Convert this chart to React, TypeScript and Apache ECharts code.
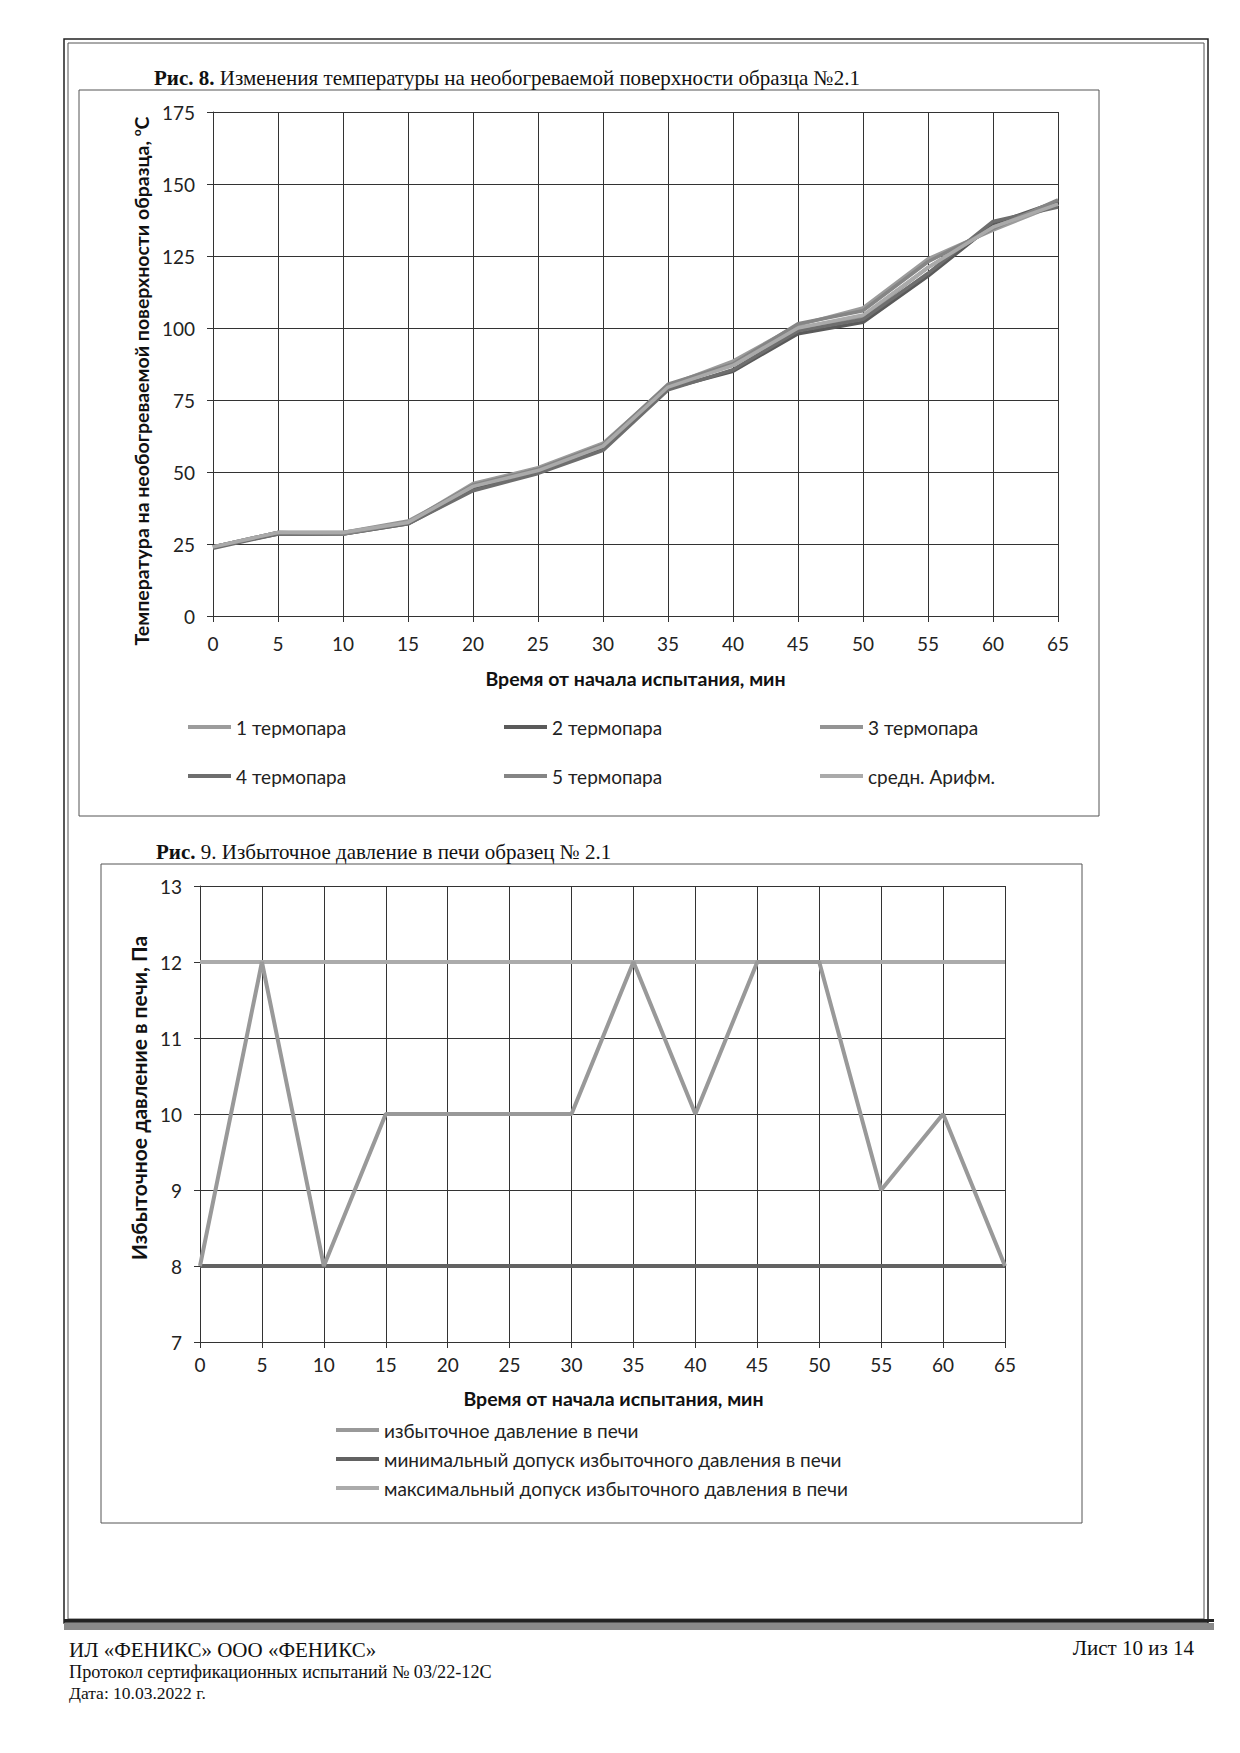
import React, { useEffect, useRef } from "react";
import * as echarts from "echarts";

// ---------- DATA ----------
const minutes = [0, 5, 10, 15, 20, 25, 30, 35, 40, 45, 50, 55, 60, 65];

const tempNames = ["1 термопара", "2 термопара", "3 термопара", "4 термопара", "5 термопара", "средн. Арифм."];
const tc1 = [24, 29, 29, 32.5, 46, 51.5, 60, 80, 88.5, 101, 107, 124, 134, 143];
const tc2 = [24, 28.5, 28.5, 32, 44, 50, 58, 79, 85, 98, 102, 118, 136, 144];
const tc3 = [24, 29, 29, 33, 45, 51, 59, 80, 87, 100, 104, 121, 135, 143];
const tc4 = [23.5, 28.5, 28.5, 32, 43.5, 49.5, 57.5, 78.5, 85.5, 99, 103, 119, 137, 142];
const tc5 = [24, 29, 28.5, 32.5, 45.5, 51, 59.5, 80.5, 87.5, 101.5, 106, 123, 134.5, 144.5];
const tcAvg = [24, 29, 29, 32.5, 45, 50.5, 59, 79.5, 87, 100, 104.5, 121, 135, 143];
const tempSeries = [tc1, tc2, tc3, tc4, tc5, tcAvg];
const tempColors = ["#9c9c9c", "#5a5a5a", "#949494", "#6e6e6e", "#858585", "#aaaaaa"];

const pressNames = [
  "избыточное давление в печи",
  "минимальный допуск избыточного давления в печи",
  "максимальный допуск избыточного давления в печи",
];
const pressure = [8, 12, 8, 10, 10, 10, 10, 12, 10, 12, 12, 9, 10, 8];
const pressureMin = [8, 8, 8, 8, 8, 8, 8, 8, 8, 8, 8, 8, 8, 8];
const pressureMax = [12, 12, 12, 12, 12, 12, 12, 12, 12, 12, 12, 12, 12, 12];
const pressColors = ["#999999", "#626262", "#ababab"];

const title1Bold = "Рис. 8.";
const title1Text = " Изменения температуры на необогреваемой поверхности образца №2.1";
const title2Bold = "Рис.";
const title2Text = " 9. Избыточное давление в печи образец № 2.1";
const xName = "Время от начала испытания, мин";
const y1Name = "Температура на необогреваемой поверхности образца, {sup|o}С";
const y2Name = "Избыточное давление в печи, Па";
const footer1 = "ИЛ «ФЕНИКС» ООО «ФЕНИКС»";
const footer2 = "Протокол сертификационных испытаний № 03/22-12С";
const footer3 = "Дата: 10.03.2022 г.";
const footerPage = "Лист 10 из 14";

const SANS = "Lato";
const SERIF = "Liberation Serif";

export default function App() {
  const ref = useRef<HTMLDivElement>(null);

  useEffect(() => {
    if (!ref.current) return;
    const chart = echarts.init(ref.current, undefined, { renderer: "svg" });

    const gridLine = { show: true, lineStyle: { color: "#333333", width: 1 } };
    const axisLine = { show: true, lineStyle: { color: "#333333", width: 1 } };
    const axisTick = { show: true, length: 6, lineStyle: { color: "#333333", width: 1 } };
    const labelStyle = { fontFamily: SANS, fontSize: 19, color: "#222" };
    const nameStyle = { fontFamily: SANS, fontSize: 19.5, fontWeight: "bold", color: "#111" };

    const series: any[] = [];
    tempSeries.forEach((arr, i) => {
      series.push({
        type: "line",
        name: tempNames[i],
        xAxisIndex: 0,
        yAxisIndex: 0,
        data: minutes.map((m, j) => [m, arr[j]]),
        showSymbol: false,
        symbol: "none",
        lineStyle: { color: tempColors[i], width: 3.5 },
        itemStyle: { color: tempColors[i] },
        z: 2 + i,
      });
    });
    [pressure, pressureMin, pressureMax].forEach((arr, i) => {
      series.push({
        type: "line",
        name: pressNames[i],
        xAxisIndex: 1,
        yAxisIndex: 1,
        data: minutes.map((m, j) => [m, arr[j]]),
        showSymbol: false,
        symbol: "none",
        lineStyle: { color: pressColors[i], width: 4 },
        itemStyle: { color: pressColors[i] },
        z: i === 0 ? 5 : 3,
      });
    });

    const legendCommon = {
      orient: "vertical",
      icon: "rect",
      itemWidth: 43,
      itemHeight: 4,
      selectedMode: false,
      textStyle: { fontFamily: SANS, fontSize: 19, color: "#222", lineHeight: 20 },
    };

    const option: any = {
      animation: false,
      backgroundColor: "#ffffff",
      grid: [
        { left: 213, top: 112, width: 845, height: 504 },
        { left: 200, top: 886, width: 805, height: 456 },
      ],
      xAxis: [
        {
          gridIndex: 0,
          type: "value",
          min: 0,
          max: 65,
          interval: 5,
          axisLine,
          axisTick,
          splitLine: gridLine,
          axisLabel: { ...labelStyle, margin: 18 },
          name: xName,
          nameLocation: "middle",
          nameGap: 52,
          nameTextStyle: nameStyle,
        },
        {
          gridIndex: 1,
          type: "value",
          min: 0,
          max: 65,
          interval: 5,
          axisLine,
          axisTick,
          splitLine: gridLine,
          axisLabel: { ...labelStyle, margin: 13 },
          name: xName,
          nameLocation: "middle",
          nameGap: 46,
          nameTextStyle: { ...nameStyle, padding: [0, 0, 0, 22] },
        },
      ],
      yAxis: [
        {
          gridIndex: 0,
          type: "value",
          min: 0,
          max: 175,
          interval: 25,
          axisLine,
          axisTick,
          splitLine: gridLine,
          axisLabel: { ...labelStyle, margin: 18 },
          name: y1Name,
          nameLocation: "middle",
          nameGap: 58,
          nameTextStyle: {
            ...nameStyle,
            padding: [0, 34, 0, 0],
            rich: {
              sup: { fontFamily: SANS, fontSize: 12, fontWeight: "bold", color: "#111", verticalAlign: "top", padding: [0, 0, 10, 0] },
            },
          },
        },
        {
          gridIndex: 1,
          type: "value",
          min: 7,
          max: 13,
          interval: 1,
          axisLine,
          axisTick,
          splitLine: gridLine,
          axisLabel: { ...labelStyle, margin: 18 },
          name: y2Name,
          nameLocation: "middle",
          nameGap: 47,
          nameTextStyle: { ...nameStyle, fontSize: 21, padding: [0, 0, 0, 32] },
        },
      ],
      legend: [
        { ...legendCommon, data: [tempNames[0], tempNames[3]], left: 183, top: 712, itemGap: 29 },
        { ...legendCommon, data: [tempNames[1], tempNames[4]], left: 499, top: 712, itemGap: 29 },
        { ...legendCommon, data: [tempNames[2], tempNames[5]], left: 815, top: 712, itemGap: 29 },
        { ...legendCommon, data: pressNames, left: 331, top: 1415, itemGap: 9 },
      ],
      series,
      graphic: [
        // page border (double)
        { type: "rect", shape: { x: 64, y: 39, width: 1144, height: 1584 }, style: { fill: "none", stroke: "#222", lineWidth: 1.5 }, silent: true },
        { type: "rect", shape: { x: 68, y: 43, width: 1136, height: 1576 }, style: { fill: "none", stroke: "#555", lineWidth: 1 }, silent: true },
        // footer band
        { type: "rect", shape: { x: 64, y: 1619, width: 1150, height: 3 }, style: { fill: "#222" }, silent: true },
        { type: "rect", shape: { x: 64, y: 1623, width: 1150, height: 7 }, style: { fill: "#8a8a8a" }, silent: true },
        // chart frames
        { type: "rect", shape: { x: 79, y: 90, width: 1020, height: 726 }, style: { fill: "none", stroke: "#555", lineWidth: 1 }, silent: true },
        { type: "rect", shape: { x: 101, y: 864, width: 981, height: 659 }, style: { fill: "none", stroke: "#555", lineWidth: 1 }, silent: true },
        // titles
        {
          type: "text",
          x: 154,
          y: 78,
          style: {
            text: "{b|" + title1Bold + "}" + title1Text,
            fontFamily: SERIF,
            fontSize: 21,
            fill: "#111",
            verticalAlign: "middle",
            rich: { b: { fontFamily: SERIF, fontSize: 21, fontWeight: "bold", fill: "#111" } },
          },
          silent: true,
        },
        {
          type: "text",
          x: 156,
          y: 852,
          style: {
            text: "{b|" + title2Bold + "}" + title2Text,
            fontFamily: SERIF,
            fontSize: 21,
            fill: "#111",
            verticalAlign: "middle",
            rich: { b: { fontFamily: SERIF, fontSize: 21, fontWeight: "bold", fill: "#111" } },
          },
          silent: true,
        },
        // footer
        { type: "text", x: 69, y: 1650, style: { text: footer1, fontFamily: SERIF, fontSize: 21, fill: "#111", verticalAlign: "middle" }, silent: true },
        { type: "text", x: 69, y: 1672, style: { text: footer2, fontFamily: SERIF, fontSize: 18.2, fill: "#111", verticalAlign: "middle" }, silent: true },
        { type: "text", x: 69, y: 1693, style: { text: footer3, fontFamily: SERIF, fontSize: 17.5, fill: "#111", verticalAlign: "middle" }, silent: true },
        { type: "text", x: 1194, y: 1648, style: { text: footerPage, fontFamily: SERIF, fontSize: 21, fill: "#111", verticalAlign: "middle", align: "right" }, silent: true },
      ],
    };

    chart.setOption(option);
    return () => chart.dispose();
  }, []);

  return (
    <div
      ref={ref}
      style={{ position: "absolute", left: 0, top: 0, width: 1240, height: 1753, background: "#fff" }}
    />
  );
}
